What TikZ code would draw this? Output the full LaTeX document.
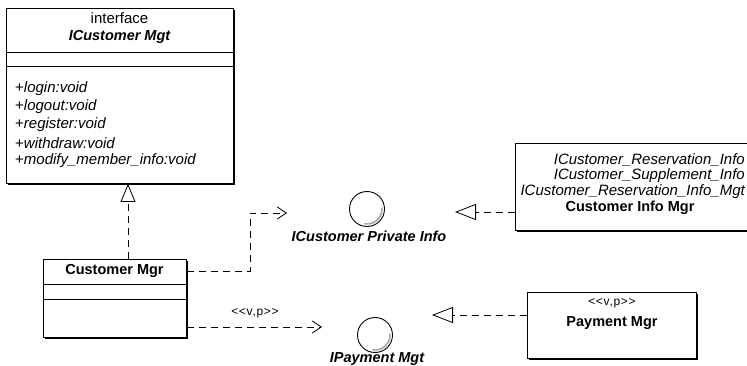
\documentclass[tikz,border=0pt]{standalone}
\usepackage{fontspec}
\setmainfont{Liberation Sans}
\usetikzlibrary{arrows.meta,shadows}

\begin{document}
\begin{tikzpicture}[x=1pt,y=-1pt,
  umlbox/.style={draw, line width=0.9pt, fill=white, anchor=north west,
    inner sep=0pt,
    general shadow={fill=black, shadow xshift=1.8pt, shadow yshift=-1.8pt}},
  sepline/.style={line width=0.8pt},
  txt/.style={inner sep=0pt, font=\fontsize{15}{17}\selectfont},
  bftxt/.style={inner sep=0pt, font=\fontsize{14.5}{17}\selectfont\bfseries},
  bitxt/.style={inner sep=0pt, font=\fontsize{14.5}{17}\selectfont\bfseries\itshape},
  ittxt/.style={inner sep=0pt, font=\fontsize{15}{17}\selectfont\itshape},
  stereo/.style={inner sep=0pt, font=\fontsize{12}{14}\selectfont\addfontfeature{LetterSpace=6}},
  dep/.style={draw, line width=0.8pt, dash pattern=on 7pt off 5pt},
  opentip/.style={-{Straight Barb[length=9pt,width=12pt,line width=0.8pt]}},
  realize/.style={-{Triangle[open,length=21pt,width=16pt,line width=0.8pt]}},
  general/.style={-{Triangle[open,length=18pt,width=15pt,line width=0.8pt]}},
  iface/.style={circle, draw, line width=0.9pt, minimum size=35pt, inner sep=0pt}
]
\useasboundingbox (0,0) rectangle (747,366);

% ---- interface ICustomer Mgt ----
\node[umlbox, minimum width=227pt, minimum height=175pt] (icm) at (6,8) {};
\draw[sepline] (icm.west |- 0,52) -- (icm.east |- 0,52);
\draw[sepline] (icm.west |- 0,66) -- (icm.east |- 0,66);
\node[txt] (icmst) at (119.5,18) {interface};
\node[bitxt] (icmname) at (119.5,37) {ICustomer Mgt};
\node[txt, anchor=west] (op1) at (15,89) {+\textit{login:void}};
\node[txt, anchor=west] (op2) at (15,107) {+\textit{logout:void}};
\node[txt, anchor=west] (op3) at (15,125) {+\textit{register:void}};
\node[txt, anchor=west] (op4) at (15,143) {+\textit{withdraw:void}};
\node[txt, anchor=west] (op5) at (15,161) {+\textit{modify\_member\_info:void}};

% ---- Customer Mgr class ----
\node[umlbox, minimum width=143pt, minimum height=78pt] (cmgr) at (43,259) {};
\draw[sepline] (cmgr.west |- 0,284) -- (cmgr.east |- 0,284);
\draw[sepline] (cmgr.west |- 0,299) -- (cmgr.east |- 0,299);
\node[bftxt] (cmgrname) at (114.5,271) {Customer Mgr};

% ---- Customer Info Mgr component ----
\node[umlbox, minimum width=240pt, minimum height=87pt] (cinfo) at (515,143) {};
\node[ittxt, anchor=east] (ci1) at (745,160) {ICustomer\_Reservation\_Info};
\node[ittxt, anchor=east] (ci2) at (745,176) {ICustomer\_Supplement\_Info};
\node[ittxt, anchor=east] (ci3) at (745,192) {ICustomer\_Reservation\_Info\_Mgt};
\node[bftxt] (ciname) at (630,208) {Customer Info Mgr};

% ---- Payment Mgr component ----
\node[umlbox, minimum width=169pt, minimum height=66pt] (pay) at (527,292) {};
\node[stereo] (payst) at (612,303) {<{}<v,p>{}>};
\node[bftxt] (payname) at (612,323) {Payment Mgr};

% ---- provided interfaces (lollipops) ----
\node[iface] (pinfo) at (367,209) {};
\draw[line width=1.6pt, gray!70] (pinfo.center) ++(-100:15pt) arc[start angle=-100, end angle=5, radius=15pt];
\node[bitxt] (pinfolabel) at (369,236) {ICustomer Private Info};

\node[iface] (ipay) at (375,335) {};
\draw[line width=1.6pt, gray!70] (ipay.center) ++(-100:15pt) arc[start angle=-100, end angle=5, radius=15pt];
\node[bitxt] (ipaylabel) at (377,359) {IPayment Mgt};

% ---- connectors ----
\coordinate (gen) at (128,0);
\draw[dep, general] (cmgr.north -| gen) -- (icm.south -| gen);

\coordinate (pinfoin) at (287,213);
\coordinate (bend) at (250,0);
\draw[dep, opentip] (cmgr.east |- cmgrname) -| (bend |- pinfoin) -- (pinfoin);

\coordinate (pinfotri) at (455,212);
\draw[dep, realize] (cinfo.west |- pinfotri) -- (pinfotri);

\coordinate (ipayin) at (322,327);
\draw[dep, opentip] (cmgr.east |- ipayin) -- (ipayin);
\node[stereo] (vplabel) at (255,313) {<{}<v,p>{}>};

\coordinate (ipaytri) at (432,315);
\draw[dep, realize] (pay.west |- ipaytri) -- (ipaytri);
\end{tikzpicture}
\end{document}
